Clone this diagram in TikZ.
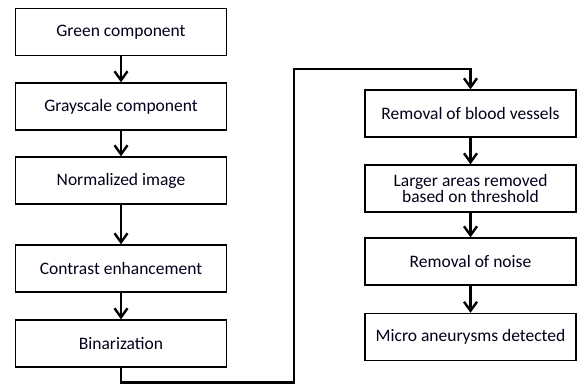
\documentclass[tikz,border=0pt]{standalone}
\usepackage{fontspec}
\setmainfont{Carlito}
\usetikzlibrary{arrows.meta}
\begin{document}
\begin{tikzpicture}[x=1pt,y=-1pt,
  box/.style={draw=black, line width=1.4pt, minimum width=211pt, minimum height=47pt, inner sep=2pt, align=center, font=\fontsize{17.5}{19}\selectfont, text=black!90!blue},
  arr/.style={line width=2.4pt, -{Straight Barb[length=9pt,width=13pt,line width=2.4pt]}}]
\useasboundingbox (0,0) rectangle (581,385);
\node[box] (g) at (121,32) {Green component};
\node[box] (gs) at (121,106.5) {Grayscale component};
\node[box] (n) at (121,180.5) {Normalized image};
\node[box] (c) at (121,268.5) {Contrast enhancement};
\node[box] (b) at (121,343.5) {Binarization};
\node[box] (r1) at (470.5,113.5) {Removal of blood vessels};
\node[box] (r2) at (470.5,188.5) {Larger areas removed\\[-3pt]based on threshold};
\node[box] (r3) at (470.5,261.5) {Removal of noise};
\node[box] (r4) at (470.5,337) {Micro aneurysms detected};
\draw[arr] (g) -- (gs);
\draw[arr] (gs) -- (n);
\draw[arr] (n) -- (c);
\draw[arr] (c) -- (b);
\draw[arr] (r1) -- (r2);
\draw[arr] (r2) -- (r3);
\draw[arr] (r3) -- (r4);
\coordinate (p1) at (121,382.5);
\coordinate (p2) at (294,382.5);
\coordinate (p3) at (294,69);
\coordinate (p4) at (470.5,69);
\draw[arr] (b.south) -- (p1) -- (p2) -- (p3) -- (p4) -- (r1.north);
\end{tikzpicture}
\end{document}
